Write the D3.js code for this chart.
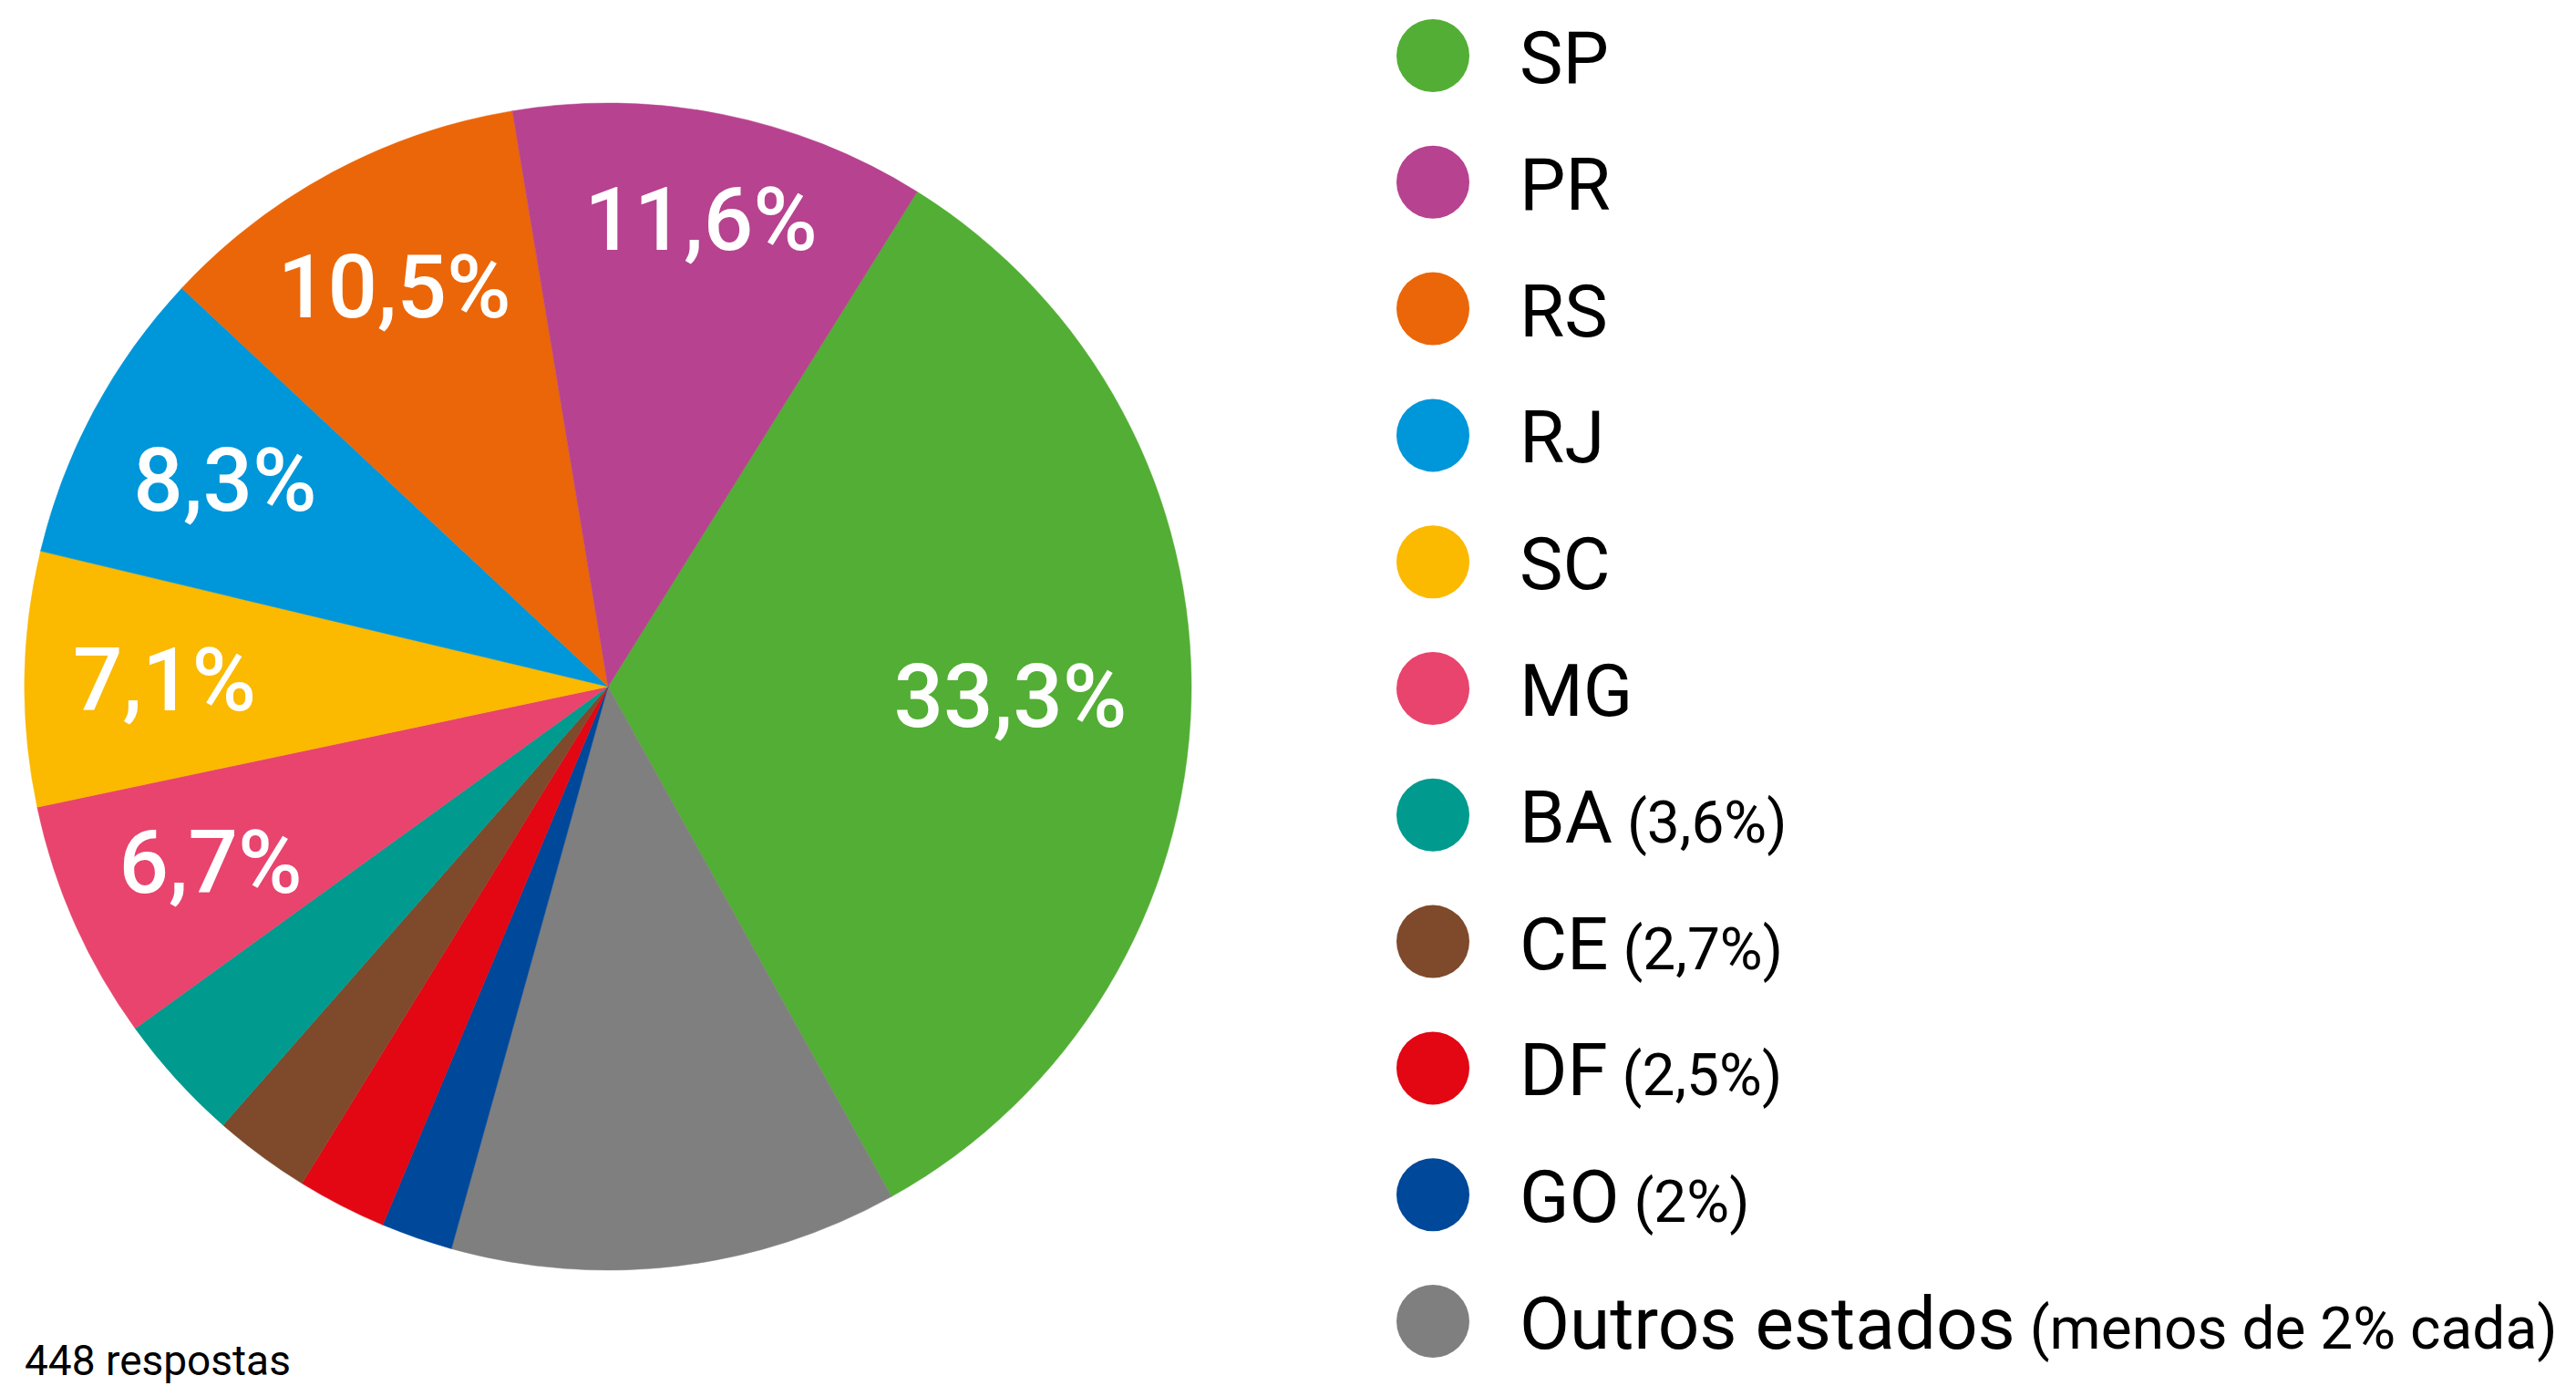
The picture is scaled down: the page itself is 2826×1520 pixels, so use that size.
<!DOCTYPE html>
<html>
<head>
<meta charset="utf-8">
<script src="https://cdn.jsdelivr.net/npm/d3@7"></script>
<style>
  html, body { margin: 0; padding: 0; background: #fff; }
  text { font-family: Roboto, "Open Sans", sans-serif; }
</style>
</head>
<body>
<div id="chart"></div>
<script>
// states, in legend order
var states = ["SP", "PR", "RS", "RJ", "SC", "MG", "BA", "CE", "DF", "GO", "Outros estados"];
// "Outros" has no label; its size is read off the grey slice
var values = [33.3, 11.6, 10.5, 8.3, 7.1, 6.7, 3.6, 2.7, 2.5, 2, 12.5];
var notes = ["", "", "", "", "", "", "(3,6%)", "(2,7%)", "(2,5%)", "(2%)", "(menos de 2% cada)"];
var colors = ["#52ae34", "#b7428f", "#eb6608", "#0096da", "#fbb900", "#e8446d",
              "#009a8f", "#7e4a2b", "#e30613", "#004899", "#7f7f7f"];
// slices go clockwise in this order
var pieOrder = ["SP", "Outros estados", "GO", "DF", "CE", "BA", "MG", "SC", "RJ", "RS", "PR"];
var labelled = ["SP", "PR", "RS", "RJ", "SC", "MG"];
var footnote = "448 respostas";

function fmt(v) {
    return String(v).replace(".", ",") + "%";
}

function init() {
    var w = 2826;
    var h = 1520;
    var cx = 667, cy = 753, r = 640;

    var svg = d3.select("#chart")
                .append("svg")
                .attr("width", w)
                .attr("height", h);

    var rows = states.map(function(s, i) {
        return { name: s, value: values[i], color: colors[i], note: notes[i] };
    });
    var byName = {};
    rows.forEach(function(d) { byName[d.name] = d; });
    var pieData = pieOrder.map(function(n) { return byName[n]; });

    var start = 32.0 * Math.PI / 180;
    var pie = d3.pie()
                .sort(null)
                .value(function(d) { return d.value; })
                .startAngle(start)
                .endAngle(start + 2 * Math.PI);

    var arc = d3.arc().innerRadius(0).outerRadius(r);

    var g = svg.append("g").attr("transform", "translate(" + cx + "," + cy + ")");

    var arcs = pie(pieData);

    g.selectAll("path")
     .data(arcs)
     .enter()
     .append("path")
     .attr("d", arc)
     .attr("fill", function(d) { return d.data.color; })
     .attr("stroke", function(d) { return d.data.color; })
     .attr("stroke-width", 0.5);

    // label distance from centre (fraction of radius)
    function labelR(name) {
        if (name === "SP") return 0.69;
        if (name === "PR") return 0.815;
        if (name === "RS") return 0.775;
        if (name === "SC") return 0.76;
        return 0.745;
    }

    g.selectAll("text.pct")
     .data(arcs.filter(function(d) { return labelled.indexOf(d.data.name) >= 0; }))
     .enter()
     .append("text")
     .attr("class", "pct")
     .attr("transform", function(d) {
         var a = (d.startAngle + d.endAngle) / 2;
         var rr = r * labelR(d.data.name);
         return "translate(" + (rr * Math.sin(a)) + "," + (-rr * Math.cos(a)) + ")";
     })
     .attr("text-anchor", "middle")
     .attr("dy", "0.34em")
     .attr("fill", "white")
     .attr("font-size", 96)
     .attr("font-weight", 500)
     .text(function(d) { return fmt(d.data.value); });

    // legend
    var legY = d3.scalePoint()
                 .domain(states)
                 .range([61, 1449]);

    var leg = svg.selectAll("g.leg")
                 .data(rows)
                 .enter()
                 .append("g")
                 .attr("class", "leg")
                 .attr("transform", function(d) { return "translate(0," + legY(d.name) + ")"; });

    leg.append("circle")
       .attr("cx", 1572)
       .attr("cy", 0)
       .attr("r", 40)
       .attr("fill", function(d) { return d.color; });

    var lt = leg.append("text")
                .attr("x", 1667)
                .attr("y", 30)
                .attr("fill", "#000")
                .attr("font-size", 80);

    lt.append("tspan").text(function(d) { return d.name; });
    lt.append("tspan")
      .attr("font-size", 64)
      .text(function(d) { return d.note ? " " + d.note : ""; });

    svg.append("text")
       .attr("x", 27)
       .attr("y", 1508)
       .attr("font-size", 46)
       .attr("fill", "#000")
       .text(footnote);
}

window.onload = init;
</script>
</body>
</html>
